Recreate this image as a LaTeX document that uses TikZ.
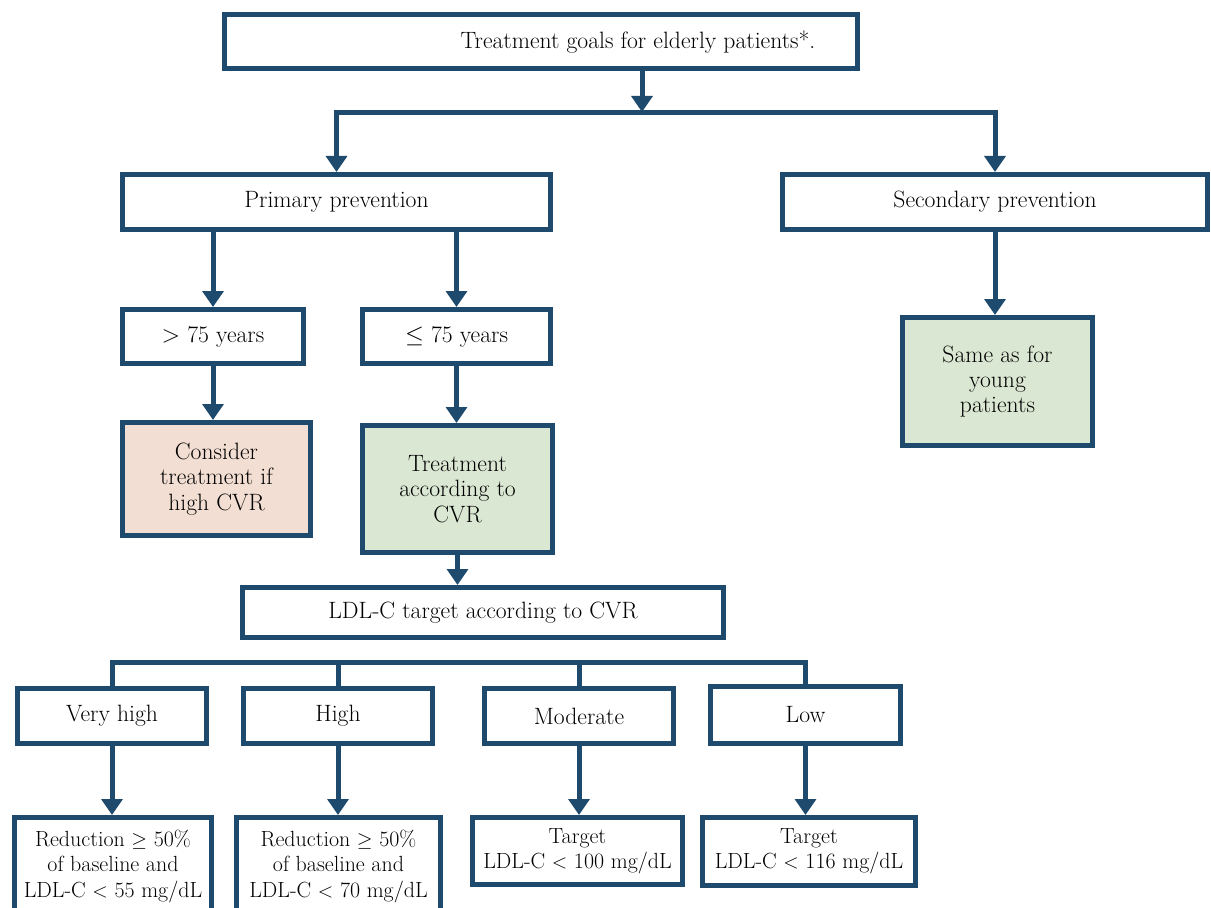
\documentclass[tikz,border=0pt]{standalone}
\usepackage{tikz}
\usetikzlibrary{arrows.meta}

\definecolor{boxblue}{RGB}{30,74,110}
\definecolor{oldfill}{RGB}{242,222,210}
\definecolor{cvrfill}{RGB}{218,231,210}

\begin{document}
\begin{tikzpicture}[x=0.025cm, y=-0.025cm,
  box/.style 2 args={draw=boxblue, line width=0.125cm, fill=white,
    minimum width=#1*0.025cm, minimum height=#2*0.025cm, inner sep=0pt,
    align=center, font=\fontsize{16.8}{18}\selectfont},
  goalbox/.style 2 args={box={#1}{#2}, font=\fontsize{15.6}{18}\selectfont},
  link/.style={draw=boxblue, line width=0.125cm},
  arr/.style={link, -{Triangle[width=0.52cm,length=0.4cm]}},
  twoarr/.style={link, {Triangle[width=0.52cm,length=0.4cm]}-{Triangle[width=0.52cm,length=0.4cm]}}]

\clip (0,0) rectangle (1211,908);
\fill[white] (0,0) rectangle (1211,908);

% top level
\node[box={633}{54}] (goals) at (541,41.5) {};
\node[font=\fontsize{16.8}{18}\selectfont] (goalstext) at (638,42) {Treatment goals for elderly patients*.};

% prevention
\node[box={428}{55}] (prim) at (336.5,202) {Primary prevention};
\node[box={425}{55}] (sec) at (995,202) {Secondary prevention};

\coordinate (split) at (642,112);
\draw[arr] (goals.south -| split) -- (split);
\draw[twoarr] (prim.north) -- (prim.north |- split) -- (sec.north |- split) -- (sec.north);

% age groups
\node[box={181}{54}] (old) at (213,336.5) {$>$ 75 years};
\node[box={188}{54}] (young) at (456.5,336.5) {$\leq$ 75 years};
\node[box={190}{128}, fill=cvrfill] (same) at (997.5,381.5) {Same as for\\young\\patients};

\draw[arr] (prim.south -| old) -- (old.north);
\draw[arr] (prim.south -| young) -- (young.north);
\draw[arr] (sec.south) -- (sec.south |- same.north);

% treatment
\node[box={188}{113}, fill=oldfill] (consider) at (216.5,479) {Consider\\treatment if\\high CVR};
\node[box={190}{127}, fill=cvrfill] (treat) at (457.5,489) {Treatment\\according to\\CVR};

\draw[arr] (old.south) -- (old.south |- consider.north);
\draw[arr] (young.south) -- (young.south |- treat.north);

% LDL-C target
\node[box={481}{50}] (ldl) at (483,612.5) {LDL-C target according to CVR};
\draw[arr] (treat.south) -- (treat.south |- ldl.north);

% risk levels
\node[box={189}{55}] (vhigh) at (112,716) {Very high};
\node[box={189}{55}] (high) at (338,716) {High};
\node[box={189}{55}] (moderate) at (579,716) {Moderate};
\node[box={190}{57}] (low) at (805.5,715) {Low};

\coordinate (bar) at (0,662);
\draw[link, line join=miter] (vhigh.north) -- (vhigh.north |- bar) -- (low.north |- bar) -- (low.north);
\draw[link] (high.north) -- (high.north |- bar);
\draw[link] (moderate.north) -- (moderate.north |- bar);

% goals per risk level
\node[goalbox={197}{98}] (vhighgoal) at (113,866.5) {Reduction $\geq$ 50\%\\of baseline and\\LDL-C $<$ 55 mg/dL};
\node[goalbox={204}{98}] (highgoal) at (338.5,866.5) {Reduction $\geq$ 50\%\\of baseline and\\LDL-C $<$ 70 mg/dL};
\node[goalbox={210}{67}] (modgoal) at (577.5,851) {Target\\LDL-C $<$ 100 mg/dL};
\node[goalbox={213}{68}] (lowgoal) at (809,851.5) {Target\\LDL-C $<$ 116 mg/dL};

\draw[arr] (vhigh.south) -- (vhigh.south |- vhighgoal.north);
\draw[arr] (high.south) -- (high.south |- highgoal.north);
\draw[arr] (moderate.south) -- (moderate.south |- modgoal.north);
\draw[arr] (low.south) -- (low.south |- lowgoal.north);

\end{tikzpicture}
\end{document}
